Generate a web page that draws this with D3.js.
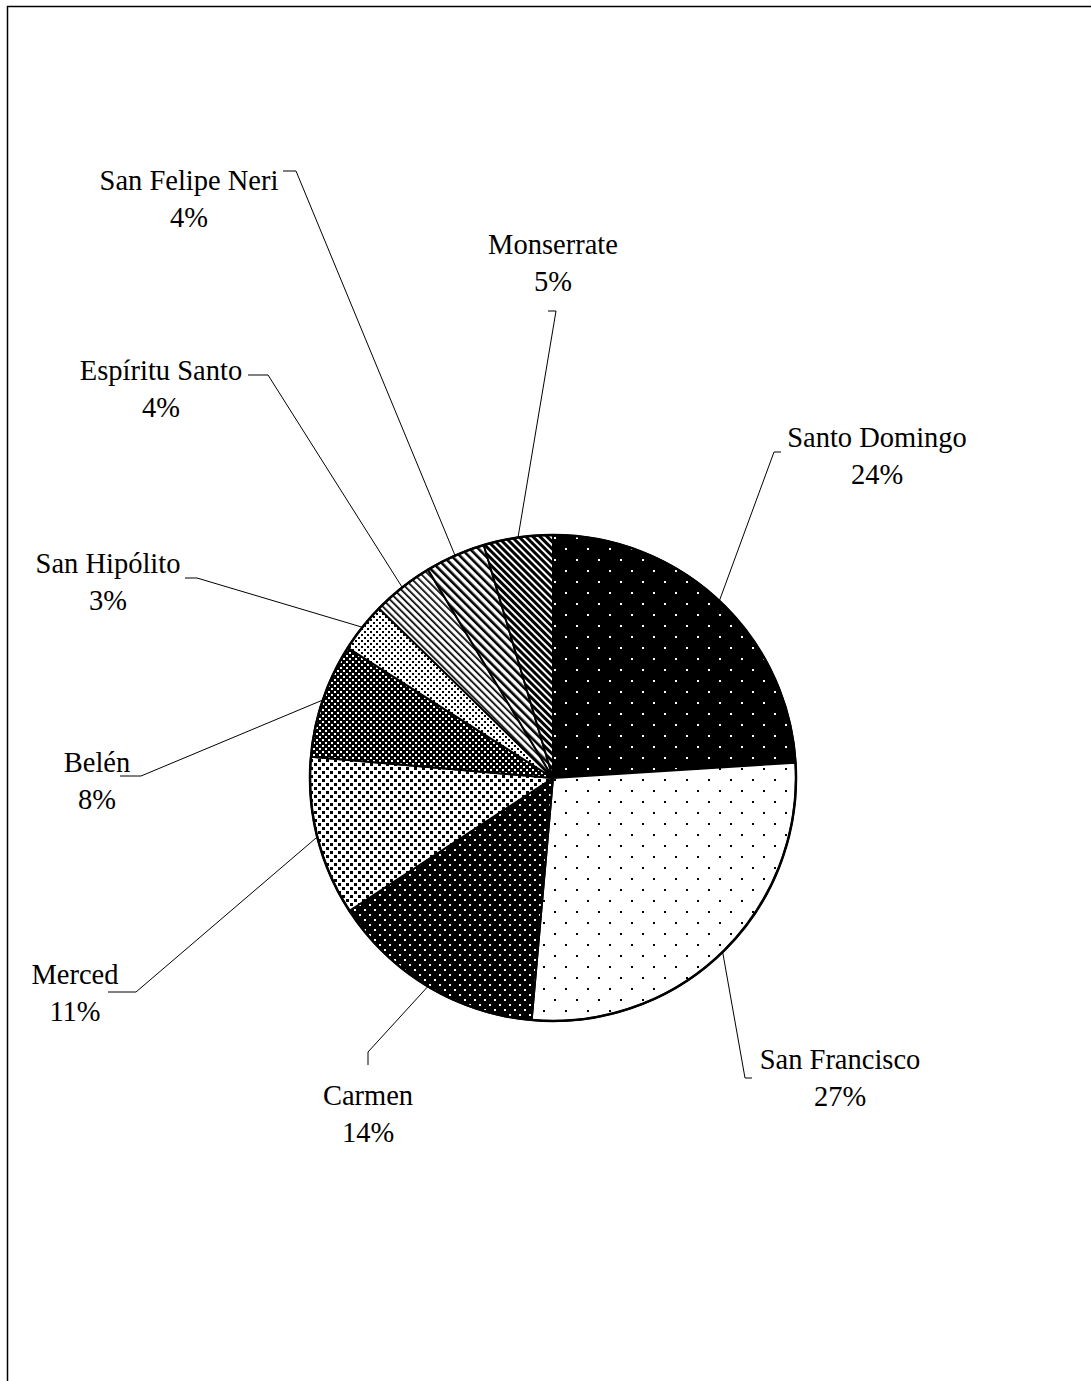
<!DOCTYPE html>
<html>
<head>
<meta charset="utf-8">
<script src="https://cdn.jsdelivr.net/npm/d3@7"></script>
<style>
  body { margin: 0; background: #fff; }
  svg text { font-family: "Liberation Serif", "Times New Roman", serif; font-size: 28.5px; fill: #000; }
</style>
</head>
<body>
<div id="chart"></div>
<script>
'use strict';

// slices, clockwise from 12 o'clock
var categories = ['Santo Domingo', 'San Francisco', 'Carmen', 'Merced', 'Belén',
                  'San Hipólito', 'Espíritu Santo', 'San Felipe Neri', 'Monserrate'];
var shares = [24.0, 27.4, 14.4, 10.6, 7.6, 3.3, 4.1, 4.0, 4.6];

// fill pattern id for each slice
var fills = ['dotSparseWhite', 'dotSparseBlack', 'dotDenseWhite', 'dotDenseBlack', 'checkDark',
             'checkLight', 'stripeLight', 'stripeMid', 'stripeDark'];

// label centre and leader start / elbow (layout only)
var labelPos = [
    {x: 877, y: 437, sx: 781, sy: 452, ex: 774, ey: 452},
    {x: 840, y: 1059, sx: 752, sy: 1078, ex: 745, ey: 1078},
    {x: 368, y: 1095, sx: 368, sy: 1065, ex: 368, ey: 1052},
    {x: 75,  y: 974, sx: 108, sy: 992, ex: 136, ey: 992},
    {x: 97,  y: 762, sx: 120, sy: 776, ex: 141, ey: 776},
    {x: 108, y: 563, sx: 185, sy: 578, ex: 197, ey: 578},
    {x: 161, y: 370, sx: 248, sy: 375, ex: 268, ey: 375},
    {x: 189, y: 180, sx: 283, sy: 171, ex: 296, ey: 171},
    {x: 553, y: 244, sx: 548, sy: 311, ex: 556, ey: 311}
];

var width = 1091, height = 1381,
    cx = 553, cy = 778, radius = 243;

var svg = d3.select('#chart').append('svg')
    .attr('width', width)
    .attr('height', height);

var defs = svg.append('defs');

// dotted fills: staggered squares
function dotPattern(id, size, bg, fg, dot) {
    var p = defs.append('pattern')
        .attr('id', id)
        .attr('patternUnits', 'userSpaceOnUse')
        .attr('width', size).attr('height', size);
    p.append('rect').attr('width', size).attr('height', size).attr('fill', bg);
    [[1, 1], [1 + size / 2, 1 + size / 2]].forEach(function(d) {
        p.append('rect').attr('x', d[0]).attr('y', d[1])
            .attr('width', dot).attr('height', dot).attr('fill', fg)
            .attr('shape-rendering', 'crispEdges');
    });
}

function checkPattern(id, bg, fg, s) {
    var p = defs.append('pattern')
        .attr('id', id)
        .attr('patternUnits', 'userSpaceOnUse')
        .attr('width', 6).attr('height', 6);
    p.append('rect').attr('width', 6).attr('height', 6).attr('fill', bg);
    [[0, 0], [3, 3]].forEach(function(d) {
        p.append('rect').attr('x', d[0]).attr('y', d[1])
            .attr('width', s).attr('height', s).attr('fill', fg)
            .attr('shape-rendering', 'crispEdges');
    });
}

// "\" stripes
function stripePattern(id, period, thick) {
    var p = defs.append('pattern')
        .attr('id', id)
        .attr('patternUnits', 'userSpaceOnUse')
        .attr('width', period).attr('height', period)
        .attr('patternTransform', 'rotate(-45)');
    p.append('rect').attr('width', period).attr('height', period).attr('fill', '#fff');
    p.append('rect').attr('width', thick).attr('height', period).attr('fill', '#000');
}

dotPattern('dotSparseWhite', 22, '#000', '#fff', 2);
dotPattern('dotSparseBlack', 22, '#fff', '#000', 2);
dotPattern('dotDenseWhite', 10, '#000', '#fff', 2);
dotPattern('dotDenseBlack', 8, '#fff', '#000', 2.5);
checkPattern('checkDark', '#000', '#fff', 2);
checkPattern('checkLight', '#fff', '#000', 2);
stripePattern('stripeLight', 5, 1.7);
stripePattern('stripeMid', 6, 2.6);
stripePattern('stripeDark', 5, 3);

// outer frame
svg.append('rect')
    .attr('x', 7.5).attr('y', 6.5)
    .attr('width', 1100).attr('height', 1400)
    .attr('fill', 'none')
    .attr('stroke', '#000')
    .attr('stroke-width', 1.5);

var pie = d3.pie().sort(null).value(function(d) { return d; });
var arcs = pie(shares);
var arc = d3.arc().innerRadius(0).outerRadius(radius);

var g = svg.append('g').attr('transform', 'translate(' + cx + ',' + cy + ')');

g.selectAll('path.slice')
    .data(arcs)
    .enter().append('path')
    .attr('class', 'slice')
    .attr('d', arc)
    .attr('fill', function(d, i) { return 'url(#' + fills[i] + ')'; })
    .attr('stroke', '#000')
    .attr('stroke-width', 2)
    .attr('stroke-linejoin', 'round');

g.append('circle')
    .attr('r', radius)
    .attr('fill', 'none')
    .attr('stroke', '#000')
    .attr('stroke-width', 2.5);

// leader lines: label -> elbow -> slice mid-angle on the rim
var line = d3.line().x(function(d) { return d[0]; }).y(function(d) { return d[1]; });
arcs.forEach(function(d, i) {
    var a = (d.startAngle + d.endAngle) / 2,
        lp = labelPos[i],
        px = cx + radius * Math.sin(a),
        py = cy - radius * Math.cos(a);
    svg.append('path')
        .attr('d', line([[lp.sx, lp.sy], [lp.ex, lp.ey], [px, py]]))
        .attr('fill', 'none')
        .attr('stroke', '#000')
        .attr('stroke-width', 1);
});

// labels
arcs.forEach(function(d, i) {
    var lp = labelPos[i];
    var t = svg.append('text')
        .attr('text-anchor', 'middle')
        .attr('x', lp.x).attr('y', lp.y)
        .attr('dy', '0.35em');
    t.append('tspan').attr('x', lp.x).text(categories[i]);
    t.append('tspan').attr('x', lp.x).attr('dy', 37).text(Math.round(shares[i]) + '%');
});
</script>
</body>
</html>
